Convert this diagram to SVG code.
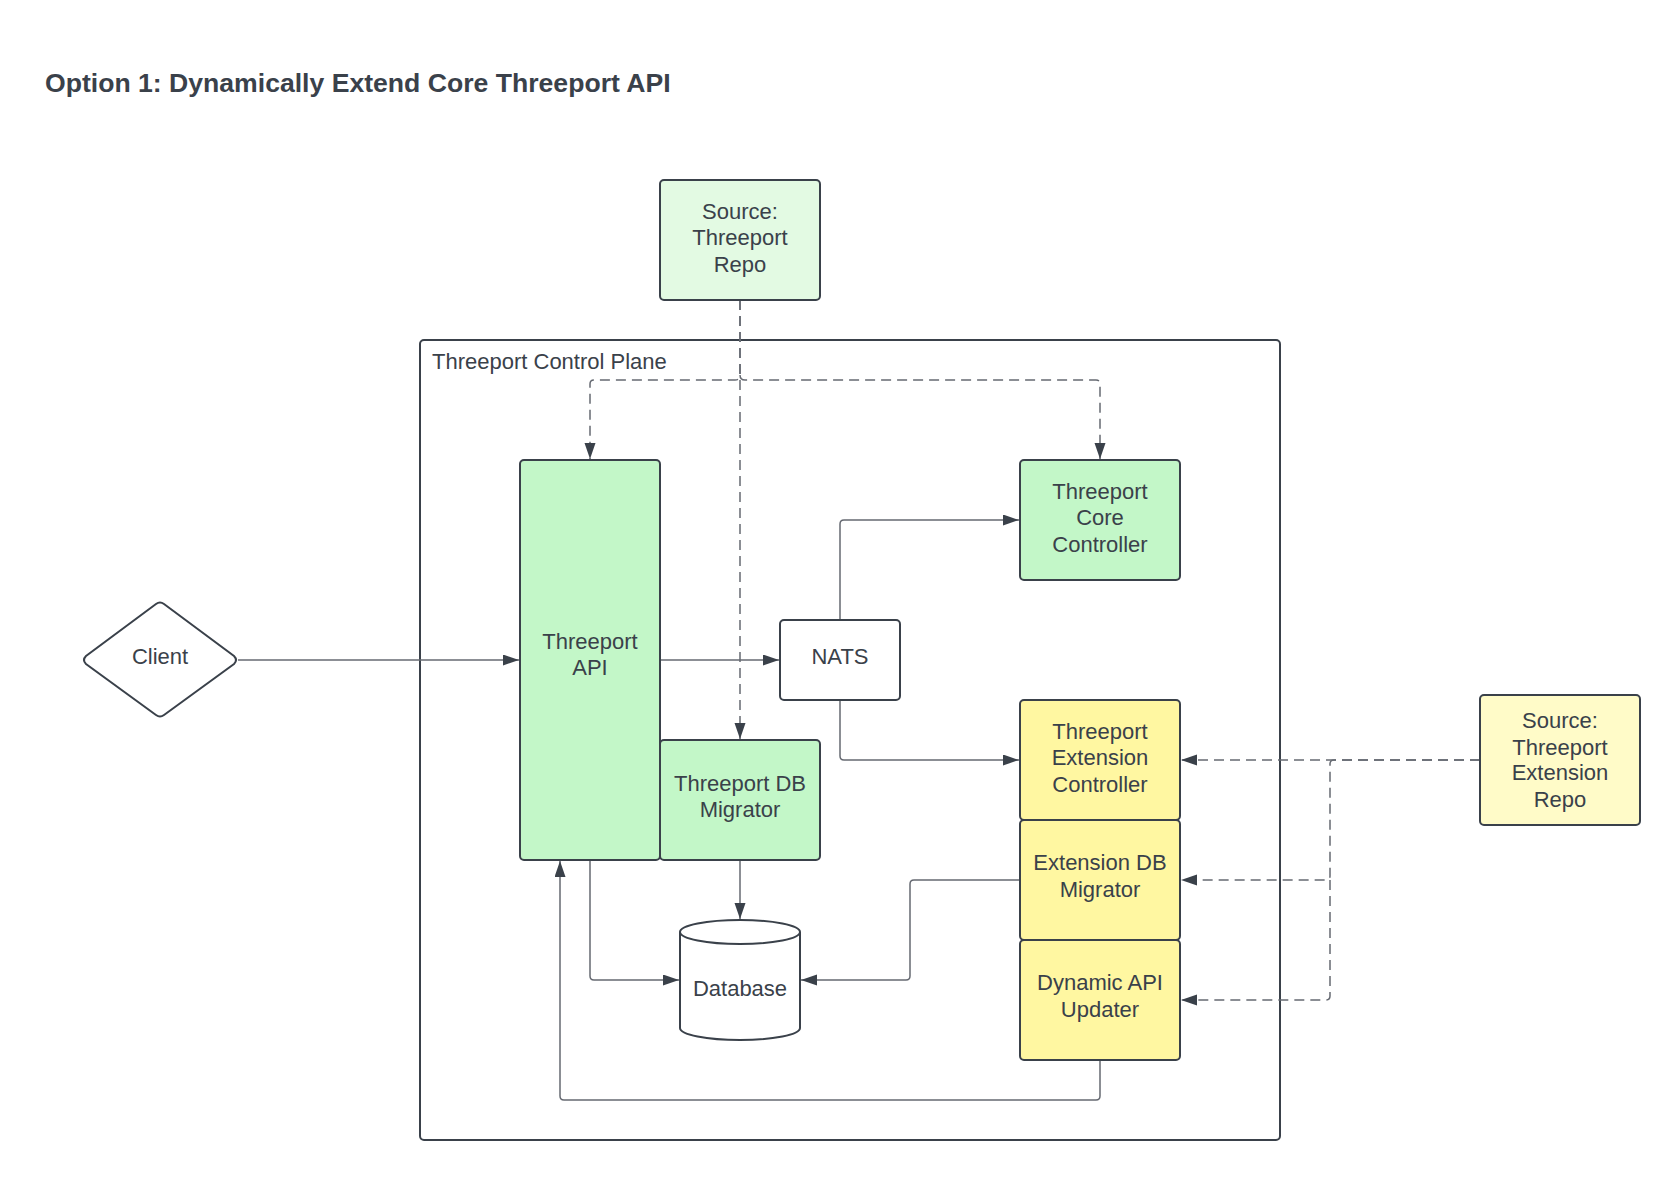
<svg xmlns="http://www.w3.org/2000/svg" width="1680" height="1180" viewBox="0 0 1680 1180">
<style>
text{font-family:"Liberation Sans",Arial,sans-serif;fill:#3a414a;}
.t{font-size:22px;text-anchor:middle;}
.title{font-size:26.6px;font-weight:bold;}
.lbl{font-size:22px;}
.node{stroke:#3a414a;stroke-width:2;}
.g1{fill:#e3fae3;}
.g2{fill:#c3f7c8;}
.y1{fill:#fff7a1;}
.y2{fill:#fffbc8;}
.w{fill:#ffffff;}
.c{fill:none;stroke:#666a72;stroke-width:1.5;marker-end:url(#ah);}
.d{fill:none;stroke:#666a72;stroke-width:1.5;stroke-dasharray:10 6;}
.da{marker-end:url(#ah);}
</style>
<defs>
<marker id="ah" markerUnits="userSpaceOnUse" markerWidth="18" markerHeight="12" refX="16" refY="5.5" orient="auto">
<path d="M0,0 L16,5.5 L0,11 z" fill="#3a414a"/>
</marker>
</defs>
<rect width="1680" height="1180" fill="#ffffff"/>
<text class="title" x="45" y="92">Option 1: Dynamically Extend Core Threeport API</text>

<g id="control-plane">
<rect x="420" y="340" width="860" height="800" rx="4" fill="none" stroke="#3a414a" stroke-width="2"/>
<text class="lbl" x="432" y="369">Threeport Control Plane</text>
</g>

<g id="connectors">
<path class="c" d="M238,660 H519"/>
<path class="c" d="M660,660 H779"/>
<path class="c" d="M840,620 V524 Q840,520 844,520 H1019"/>
<path class="c" d="M840,700 V756 Q840,760 844,760 H1019"/>
<path class="c" d="M740,860 V919"/>
<path class="c" d="M590,860 V976 Q590,980 594,980 H679"/>
<path class="c" d="M1020,880 H914 Q910,880 910,884 V976 Q910,980 906,980 H801"/>
<path class="c" d="M1100,1060 V1096 Q1100,1100 1096,1100 H564 Q560,1100 560,1096 V861"/>
<path class="d da" d="M740,300 V739"/>
<path class="d da" d="M740,300 V375 Q740,380 735,380 H594 Q590,380 590,384 V459"/>
<path class="d da" d="M740,375 Q740,380 745,380 H1096 Q1100,380 1100,384 V459"/>
<path class="d da" d="M1480,760 H1181"/>
<path class="d da" d="M1480,760 H1334 Q1330,760 1330,764 V876 Q1330,880 1326,880 H1181"/>
<path class="d da" d="M1330,880 V996 Q1330,1000 1326,1000 H1181"/>
</g>

<g id="source-threeport-repo">
<rect class="node g1" x="660" y="180" width="160" height="120" rx="4"/>
<text class="t" x="740" y="218.5">Source:</text>
<text class="t" x="740" y="245">Threeport</text>
<text class="t" x="740" y="271.5">Repo</text>
</g>

<g id="client">
<path class="node w" d="M156,604 Q160,601 164,604 L234,656 Q238,660 234,664 L164,715 Q160,718 156,715 L86,664 Q82,660 86,656 Z"/>
<text class="t" x="160" y="663.5">Client</text>
</g>

<g id="threeport-api">
<rect class="node g2" x="520" y="460" width="140" height="400" rx="4"/>
<text class="t" x="590" y="648.5">Threeport</text>
<text class="t" x="590" y="674.5">API</text>
</g>

<g id="threeport-db-migrator">
<rect class="node g2" x="660" y="740" width="160" height="120" rx="4"/>
<text class="t" x="740" y="790.5">Threeport DB</text>
<text class="t" x="740" y="816.5">Migrator</text>
</g>

<g id="threeport-core-controller">
<rect class="node g2" x="1020" y="460" width="160" height="120" rx="4"/>
<text class="t" x="1100" y="498.5">Threeport</text>
<text class="t" x="1100" y="525">Core</text>
<text class="t" x="1100" y="551.5">Controller</text>
</g>

<g id="nats">
<rect class="node w" x="780" y="620" width="120" height="80" rx="4"/>
<text class="t" x="840" y="663.5">NATS</text>
</g>

<g id="threeport-extension-controller">
<rect class="node y1" x="1020" y="700" width="160" height="120" rx="4"/>
<text class="t" x="1100" y="738.5">Threeport</text>
<text class="t" x="1100" y="765">Extension</text>
<text class="t" x="1100" y="791.5">Controller</text>
</g>

<g id="extension-db-migrator">
<rect class="node y1" x="1020" y="820" width="160" height="120" rx="4"/>
<text class="t" x="1100" y="870">Extension DB</text>
<text class="t" x="1100" y="896.5">Migrator</text>
</g>

<g id="dynamic-api-updater">
<rect class="node y1" x="1020" y="940" width="160" height="120" rx="4"/>
<text class="t" x="1100" y="990">Dynamic API</text>
<text class="t" x="1100" y="1016.5">Updater</text>
</g>

<g id="source-threeport-extension-repo">
<rect class="node y2" x="1480" y="695" width="160" height="130" rx="4"/>
<text class="t" x="1560" y="727.5">Source:</text>
<text class="t" x="1560" y="754.5">Threeport</text>
<text class="t" x="1560" y="780">Extension</text>
<text class="t" x="1560" y="806.5">Repo</text>
</g>

<g id="database">
<path class="node w" d="M680,932 A60,12 0 0 1 800,932 V1028 A60,12 0 0 1 680,1028 Z"/>
<path d="M680,932 A60,12 0 0 0 800,932" fill="none" stroke="#3a414a" stroke-width="2"/>
<text class="t" x="740" y="995.5">Database</text>
</g>
</svg>
